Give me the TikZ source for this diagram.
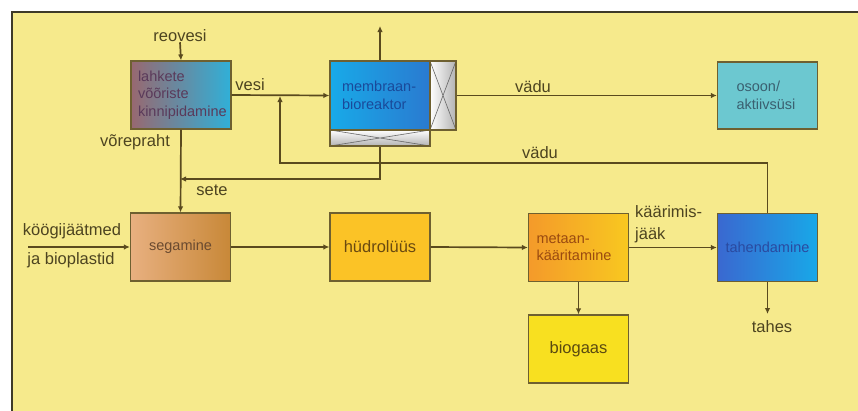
\documentclass[tikz,border=0pt]{standalone}
\usepackage{fontspec}
\setmainfont{Liberation Sans}
\usetikzlibrary{arrows.meta}

\definecolor{bg}{HTML}{F6EA8C}
\definecolor{frame}{HTML}{3E3A28}
\definecolor{edge}{HTML}{6E6030}
\definecolor{linec}{HTML}{5A4A1E}
\definecolor{lbltxt}{HTML}{4D4420}

\begin{document}
\begin{tikzpicture}[x=1pt,y=-1pt,
	box/.style={draw=edge,line width=1.2pt,minimum width=100pt,minimum height=68pt,inner sep=0pt,font=\fontsize{14.5}{17.5}\selectfont},
	lbl/.style={text=lbltxt,font=\fontsize{16.5}{19}\selectfont,inner sep=0pt},
	filt/.style={draw=edge,line width=1.2pt,inner sep=0pt,
		path picture={\draw[gray!80!black,line width=0.6pt] (path picture bounding box.south west) -- (path picture bounding box.north east)
			(path picture bounding box.north west) -- (path picture bounding box.south east);}},
	arr/.style={draw=linec,line width=1.7pt,-{Latex[length=6pt,width=5.5pt]}}]

	%background and frame
	\useasboundingbox (0,0) rectangle (858,410);
	\fill[white] (-5,-5) rectangle (870,420);
	\fill[bg] (12,12) rectangle (870,420);
	\draw[frame,line width=2pt] (12,420) -- (12,12) -- (870,12);

	%top row
	\node[box,left color={rgb,255:red,152;green,104;blue,112},right color={rgb,255:red,48;green,176;blue,216},
		text width=86pt,align=left,text={rgb,255:red,90;green,58;blue,90}] (lahk) at (181,95) {lahkete\\võõriste\\kinnipidamine};
	\node[box,left color={rgb,255:red,24;green,170;blue,232},right color={rgb,255:red,42;green,122;blue,208},
		text width=76pt,align=left,text={rgb,255:red,26;green,74;blue,154},minimum height=69pt] (memb) at (380,95.5) {membraan-\\bioreaktor};
	\node[filt,left color=white,right color=gray!60,minimum width=26pt,minimum height=69pt] (ffr) at (443,95.5) {};
	\node[filt,top color=white,bottom color=gray!60,minimum width=100pt,minimum height=16pt] (fbot) at (380,138) {};
	\node[box,fill={rgb,255:red,108;green,200;blue,208},text width=62pt,align=left,
		text={rgb,255:red,58;green,96;blue,112},minimum height=67pt] (ozon) at (767.5,95.5) {osoon/\\aktiivsüsi};

	%middle row
	\node[box,left color={rgb,255:red,232;green,176;blue,128},right color={rgb,255:red,200;green,136;blue,56},
		text={rgb,255:red,106;green,74;blue,48}] (seg) at (180.5,247) {segamine};
	\node[box,fill={rgb,255:red,251;green,195;blue,38},text={rgb,255:red,106;green,74;blue,16},
		font=\fontsize{16.5}{19}\selectfont] (hyd) at (380,247) {hüdrolüüs};
	\node[box,left color={rgb,255:red,244;green,154;blue,42},right color={rgb,255:red,248;green,200;blue,32},
		text width=84pt,align=left,text={rgb,255:red,154;green,74;blue,16}] (met) at (578.5,247.5) {metaan-\\kääritamine};
	\node[box,left color={rgb,255:red,58;green,104;blue,208},right color={rgb,255:red,24;green,168;blue,232},
		text={rgb,255:red,42;green,74;blue,160}] (tah) at (767.5,247.5) {tahendamine};

	%bottom row
	\node[box,fill={rgb,255:red,248;green,224;blue,32},text={rgb,255:red,90;green,74;blue,16},
		font=\fontsize{16.5}{19}\selectfont] (bio) at (578.5,349) {biogaas};

	%labels
	\node[lbl] (reo) at (180,36) {reovesi};
	\node[lbl] (vesi) at (250,85) {vesi};
	\node[lbl] (vore) at (135,142) {võrepraht};
	\node[lbl] (sete) at (212,190) {sete};
	\node[lbl] (vadu1) at (533,87) {vädu};
	\node[lbl] (vadu2) at (540,153) {vädu};
	\node[lbl] (kook) at (72,231) {köögijäätmed};
	\node[lbl] (bpl) at (71,260) {ja bioplastid};
	\node[lbl,align=left,anchor=west,font=\fontsize{16.5}{22}\selectfont] (kaar) at (635,224) {käärimis-\\jääk};
	\node[lbl] (tahes) at (772,327) {tahes};

	%free ends
	\coordinate (jv) at (280,96);
	\coordinate (jr) at (280,163);
	\coordinate (up) at (380,26);
	\coordinate (js) at (180,179);
	\coordinate (inp) at (28,247);
	\coordinate (out) at (767.5,314);

	%connectors
	\draw[arr] (reo.south) -- (lahk.north);
	\draw[arr] (lahk.east) -- (memb.west);
	\draw[arr] (tah.north) |- (jr) -- (jv);
	\draw[arr] (memb.north) -- (up);
	\draw[arr] (fbot.south) |- (js);
	\draw[arr] (lahk.south) -- (seg.north);
	\draw[arr] (ffr.east) -- (ozon.west);
	\draw[arr] (inp) -- (seg.west);
	\draw[arr] (seg.east) -- (hyd.west);
	\draw[arr] (hyd.east) -- (met.west);
	\draw[arr] (met.east) -- (tah.west);
	\draw[arr] (met.south) -- (bio.north);
	\draw[arr] (tah.south) -- (out);
\end{tikzpicture}
\end{document}
